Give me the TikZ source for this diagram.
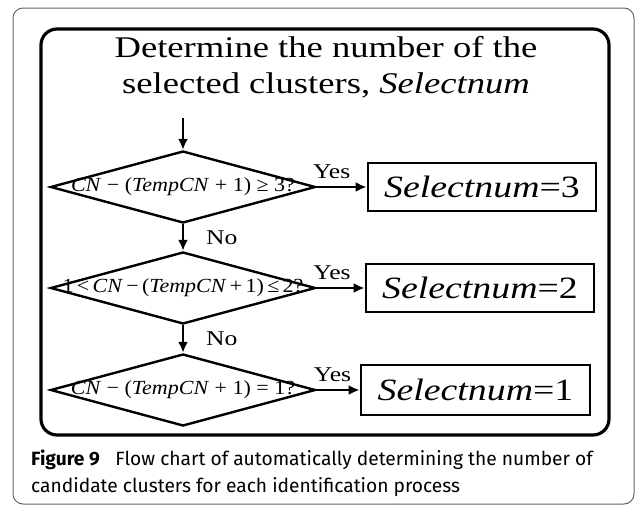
\documentclass[tikz,border=0pt]{standalone}
\usepackage{fontspec}
\setmainfont{Liberation Serif}
\newfontfamily\figfont[FakeStretch=1.22]{Liberation Serif}
\newfontfamily\condfont[FakeStretch=1.1]{Liberation Serif}
\newfontfamily\capfont{Fira Sans}
\usetikzlibrary{
  shapes.geometric,   % Decision diamonds
  arrows.meta         % Filled arrow heads
}

\tikzset{
  decision/.style={diamond, draw, line width=2.4pt, minimum width=265pt,
    minimum height=72pt, inner sep=0pt},
  resultbox/.style={rectangle, draw, line width=2.8pt, minimum width=228pt,
    minimum height=48pt, inner sep=0pt, font=\figfont\fontsize{31}{31}\selectfont},
  condtext/.style={inner sep=0pt, font=\condfont\fontsize{20}{20}\selectfont},
  answer/.style={inner sep=2pt, font=\figfont\fontsize{21}{21}\selectfont},
  flow/.style={-{Latex[length=11pt,width=10pt]}, line width=2.4pt}
}

\begin{document}
\begin{tikzpicture}[x=1pt, y=-1pt]
    \useasboundingbox (0,0) rectangle (637,506);

    % Outer caption frame
    \draw[black!60, line width=1pt, rounded corners=10pt] (13,8) rectangle (634,504);

    % Inner flow chart frame
    \draw[line width=3.2pt, rounded corners=16pt] (41,29) rectangle (609,435);

    % Title
    \node[anchor=base, font=\figfont\fontsize{30}{30}\selectfont] (title1) at (326,57)
        {Determine the number of the};
    \node[anchor=base, font=\figfont\fontsize{30}{30}\selectfont] (title2) at (326,93)
        {selected clusters, \textit{Selectnum}};

    % Decisions
    \coordinate (start) at (183,118);
    \node[decision] (d1) at (183,187) {};
    \node[decision] (d2) at (183,288) {};
    \node[decision] (d3) at (183,390) {};
    \node[condtext] (c1) at (d1) {\textit{CN} − (\textit{TempCN} + 1) ≥ 3?};
    \node[condtext] (c2) at (d2) {1\,<\,\textit{CN}\,−\,(\textit{TempCN}\,+\,1)\,≤\,2?};
    \node[condtext] (c3) at (d3) {\textit{CN} − (\textit{TempCN} + 1) = 1?};

    % Results
    \node[resultbox] (b1) at (482,187) {\textit{Selectnum}=3};
    \node[resultbox] (b2) at (480,288) {\textit{Selectnum}=2};
    \node[resultbox, minimum width=229pt, minimum height=50pt] (b3) at (475.5,390)
        {\textit{Selectnum}=1};

    % Flow down
    \draw[flow] (start) -- (d1.north);
    \draw[flow] (d1.south) -- (d2.north) node[answer, midway, right, xshift=20pt] {No};
    \draw[flow] (d2.south) -- (d3.north) node[answer, midway, right, xshift=20pt] {No};

    % Yes branches
    \draw[flow] (d1.east) -- (b1.west) node[answer, pos=0.3, above, yshift=5pt] {Yes};
    \draw[flow] (d2.east) -- (b2.west) node[answer, pos=0.32, above, yshift=5pt] {Yes};
    \draw[flow] (d3.east) -- (b3.west) node[answer, pos=0.37, above, yshift=5pt] {Yes};

    % Caption
    \node[anchor=base west, inner sep=0pt, font=\capfont\fontsize{19.2}{27}\selectfont] (cap1)
        at (31,465) {\textbf{Figure 9}\hspace{0.55em} Flow chart of automatically determining the number of};
    \node[anchor=base west, inner sep=0pt, font=\capfont\fontsize{19.2}{27}\selectfont] (cap2)
        at (31,492) {candidate clusters for each identification process};
\end{tikzpicture}
\end{document}
